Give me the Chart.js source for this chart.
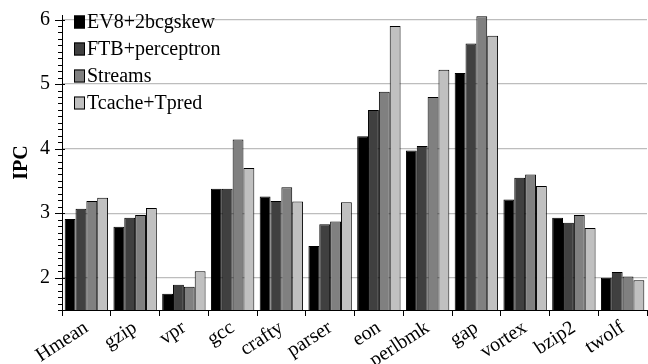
<!DOCTYPE html>
<html>
<head>
<meta charset="utf-8">
<script src="https://cdn.jsdelivr.net/npm/chart.js@4.4.0/dist/chart.umd.min.js"></script>
<style>
  html, body { margin: 0; padding: 0; background: #fff; }
  #wrap { width: 648px; height: 364px; }
</style>
</head>
<body>
<div id="wrap"><canvas id="ipcChart" width="648" height="364"></canvas></div>
<script>
var benchmarks = ['Hmean', 'gzip', 'vpr', 'gcc', 'crafty', 'parser', 'eon', 'perlbmk', 'gap', 'vortex', 'bzip2', 'twolf'];
var ev8     = [2.91, 2.79, 1.75, 3.38, 3.26, 2.49, 4.19, 3.97, 5.17, 3.21, 2.93, 2.00];
var ftb     = [3.07, 2.93, 1.89, 3.38, 3.19, 2.83, 4.60, 4.04, 5.63, 3.55, 2.85, 2.09];
var streams = [3.19, 2.97, 1.86, 4.14, 3.40, 2.87, 4.88, 4.80, 6.05, 3.60, 2.97, 2.02];
var tcache  = [3.24, 3.08, 2.10, 3.70, 3.18, 3.17, 5.90, 5.22, 5.75, 3.42, 2.77, 1.96];
var seriesNames  = ['EV8+2bcgskew', 'FTB+perceptron', 'Streams', 'Tcache+Tpred'];
var seriesColors = ['#000000', '#404040', '#808080', '#c0c0c0'];
var yMajor = [2, 3, 4, 5, 6];

var serif = '"Liberation Serif", "Times New Roman", serif';

function isMajor(v) {
    return Math.abs(v - Math.round(v)) < 1e-6;
}

// legend boxes drawn inside the plot, top left
var boxLegend = {
    id: 'boxLegend',
    afterDraw: function (chart) {
        var ctx = chart.ctx, area = chart.chartArea;
        ctx.save();
        ctx.font = '20px ' + serif;
        ctx.textBaseline = 'middle';
        chart.data.datasets.forEach(function (ds, i) {
            var x = area.left + 12;
            var y = area.top + 7 + i * 27;
            ctx.fillStyle = ds.backgroundColor;
            ctx.fillRect(x, y - 6.5, 11, 13);
            ctx.strokeStyle = '#000';
            ctx.lineWidth = 1;
            ctx.strokeRect(x + 0.5, y - 6, 10, 12);
            ctx.fillStyle = '#000';
            ctx.fillText(ds.label, x + 13, y + 1);
        });
        ctx.restore();
    }
};

// y ticks: short ones every 0.1, long ones on the integers crossing the axis
var yTickMarks = {
    id: 'yTickMarks',
    afterDraw: function (chart) {
        var s = chart.scales.y, ctx = chart.ctx;
        ctx.save();
        ctx.strokeStyle = '#000';
        ctx.lineWidth = 1;
        s.ticks.forEach(function (t) {
            var py = Math.round(s.getPixelForValue(t.value)) + 0.5;
            ctx.beginPath();
            if (isMajor(t.value)) {
                ctx.moveTo(s.right - 7, py);
                ctx.lineTo(s.right + 3, py);
            } else {
                ctx.moveTo(s.right - 4, py);
                ctx.lineTo(s.right, py);
            }
            ctx.stroke();
        });
        ctx.restore();
    }
};

var values = [ev8, ftb, streams, tcache];
var datasets = seriesNames.map(function (name, i) {
    return {
        label: name,
        data: values[i],
        backgroundColor: seriesColors[i],
        borderColor: '#000',
        borderWidth: 1,
        categoryPercentage: 0.89,
        barPercentage: 1.0
    };
});

var ctx = document.getElementById('ipcChart').getContext('2d');
var chartObj = new Chart(ctx, {
    type: 'bar',
    data: { labels: benchmarks, datasets: datasets },
    options: {
        responsive: false,
        animation: false,
        layout: { padding: { top: 15, right: 1, left: 0, bottom: 0 } },
        plugins: {
            legend: { display: false },
            tooltip: { enabled: false }
        },
        scales: {
            x: {
                afterFit: function (scale) {
                    scale.height = 54;
                    scale.paddingLeft = 0;
                    scale.paddingRight = 0;
                },
                border: { display: true, color: '#000', width: 1 },
                grid: { drawOnChartArea: false, drawTicks: true, tickLength: 6, tickColor: '#000', offset: true },
                ticks: {
                    color: '#000',
                    font: { family: serif, size: 20 },
                    minRotation: 33,
                    maxRotation: 33,
                    padding: 0,
                    autoSkip: false
                }
            },
            y: {
                min: 1.5,
                max: 6.07,
                afterFit: function (scale) {
                    scale.width = 62;
                    scale.paddingTop = 0;
                    scale.paddingBottom = 0;
                },
                border: { display: true, color: '#000', width: 1 },
                grid: {
                    color: function (c) { return isMajor(c.tick.value) ? '#bdbdbd' : 'rgba(0,0,0,0)'; },
                    drawTicks: false,
                    lineWidth: 1.2
                },
                title: {
                    display: true,
                    text: 'IPC',
                    color: '#000',
                    font: { family: serif, size: 20, weight: 'bold' },
                    padding: { top: 10, bottom: 0 }
                },
                ticks: {
                    stepSize: 0.1,
                    includeBounds: false,
                    autoSkip: false,
                    color: '#000',
                    padding: 12,
                    font: { family: serif, size: 20 },
                    callback: function (v) { return isMajor(v) ? String(Math.round(v)) : ''; }
                }
            }
        }
    },
    plugins: [boxLegend, yTickMarks]
});
</script>
</body>
</html>
